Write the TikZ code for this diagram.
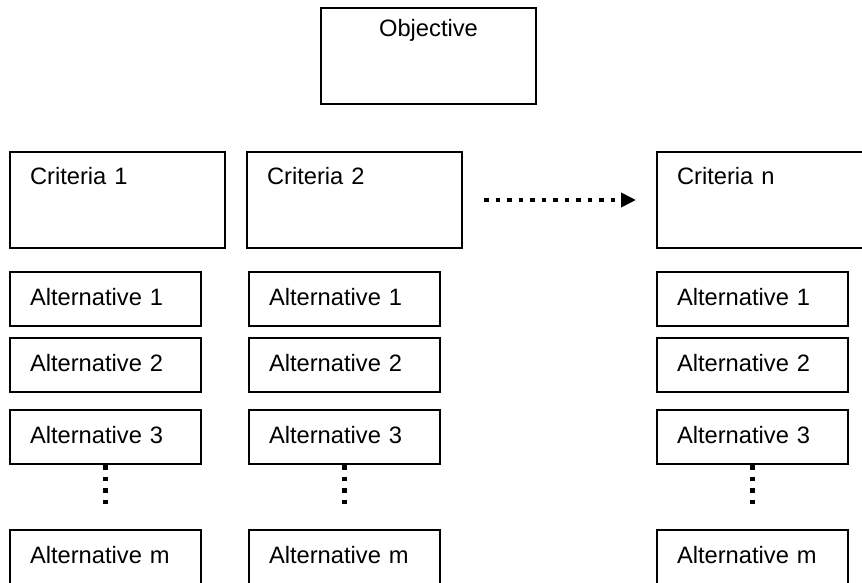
\documentclass[tikz,border=0pt]{standalone}
\usepackage{fontspec}
\setmainfont{Liberation Sans}
\usetikzlibrary{positioning, arrows.meta}

\begin{document}
\begin{tikzpicture}[x=1pt, y=-1pt, line width=2pt,
    every node/.style={font=\fontsize{23.7}{28}\selectfont},
    objbox/.style={draw, anchor=north west, inner xsep=20pt, inner ysep=5pt, text width=175pt, text height=24pt, text depth=62pt, align=center},
    critbox/.style={draw, anchor=north west, inner xsep=20pt, inner ysep=10pt, text width=175pt, text height=22pt, text depth=54pt, align=left},
    altbox/.style={draw, anchor=north west, inner xsep=20pt, inner ysep=5pt, text width=151pt, text height=28pt, text depth=16pt, align=left},
    dotline/.style={line width=4.5pt, dash pattern=on 4.5pt off 7pt}]
  \useasboundingbox (0,0) rectangle (862,583);

  \node[objbox] (obj) at (320,7) {Objective};

  \node[critbox] (crit1) at (9,151) {Criteria 1};
  \node[critbox, right=20pt of crit1.north east, anchor=north west] (crit2) {Criteria 2};
  \node[critbox] (critn) at (656,151) {Criteria n};

  % alternatives under each criterion
  \foreach \c/\x in {1/9, 2/248, n/656} {
    \node[altbox] (alt1\c) at (\x,271) {Alternative 1};
    \node[altbox] (alt2\c) at (\x,337) {Alternative 2};
    \node[altbox] (alt3\c) at (\x,409) {Alternative 3};
    \node[altbox] (altm\c) at (\x,529) {Alternative m};
    \draw[dotline, shorten >=25pt] (alt3\c.south) -- (altm\c.north);
  }

  \draw[dotline, -{Triangle[length=15pt, width=14pt]}, shorten <=21pt, shorten >=20pt] (crit2.east) -- (critn.west);
\end{tikzpicture}
\end{document}
